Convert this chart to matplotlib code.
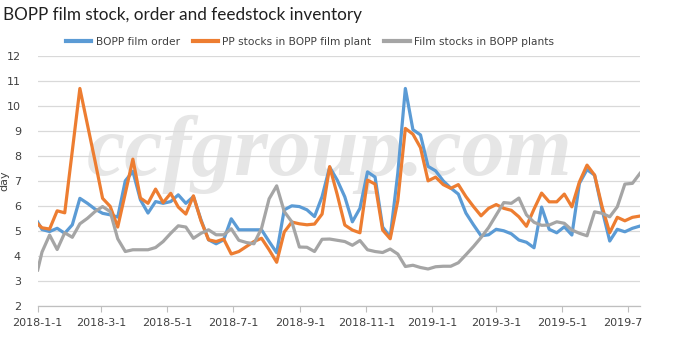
import matplotlib
matplotlib.use("Agg")
import matplotlib.pyplot as plt
import pandas as pd
from matplotlib.transforms import Bbox

# ---- data ----
dates = pd.to_datetime(["2018-01-01"]).append(
    pd.date_range("2018-01-05", "2019-07-12", freq="7D"))

bopp_order = [5.35, 5.05, 4.97, 5.1, 4.9, 5.24, 6.3, 6.1, 5.87, 5.7,
              5.64, 5.55, 7.0, 7.38, 6.24, 5.71, 6.17, 6.1, 6.17, 6.44,
              6.1, 6.37, 5.44, 4.64, 4.48, 4.64, 5.48, 5.04, 5.04, 5.04,
              5.04, 4.57, 4.12, 5.84, 6.0, 5.97, 5.84, 5.57, 6.37, 7.55,
              7.03, 6.36, 5.36, 5.9, 7.36, 7.15, 5.15, 4.75, 7.3, 10.7,
              9.05, 8.84, 7.58, 7.4, 7.0, 6.71, 6.47, 5.71, 5.24, 4.8,
              4.84, 5.06, 5.0, 4.88, 4.63, 4.54, 4.32, 5.95, 5.06, 4.92,
              5.16, 4.83, 6.9, 7.45, 7.23, 5.83, 4.59, 5.06, 4.96, 5.1,
              5.19]

pp_stocks = [5.28, 5.12, 5.07, 5.8, 5.72, 8.2, 10.7, 9.25, 7.8, 6.3,
             5.98, 5.15, 6.5, 7.87, 6.31, 6.1, 6.67, 6.13, 6.5, 5.95,
             5.67, 6.4, 5.4, 4.64, 4.57, 4.67, 4.07, 4.17, 4.37, 4.57,
             4.7, 4.24, 3.74, 4.95, 5.35, 5.28, 5.24, 5.27, 5.67, 7.57,
             6.45, 5.23, 5.03, 4.92, 7.03, 6.87, 5.03, 4.68, 6.2, 9.1,
             8.87, 8.33, 7.0, 7.15, 6.85, 6.7, 6.85, 6.37, 5.97, 5.6,
             5.9, 6.05, 5.9, 5.82, 5.56, 5.18, 5.87, 6.51, 6.16, 6.16,
             6.47, 5.96, 6.96, 7.63, 7.23, 5.96, 4.92, 5.54, 5.4, 5.54,
             5.59]

film_stocks = [3.43, 4.15, 4.83, 4.25, 4.92, 4.74, 5.28, 5.5, 5.77, 5.97,
               5.77, 4.68, 4.17, 4.24, 4.24, 4.24, 4.33, 4.57, 4.9, 5.2,
               5.15, 4.7, 4.9, 5.04, 4.84, 4.84, 5.08, 4.62, 4.53, 4.48,
               5.1, 6.28, 6.8, 5.77, 5.36, 4.35, 4.34, 4.17, 4.66, 4.67,
               4.62, 4.57, 4.42, 4.61, 4.24, 4.17, 4.13, 4.27, 4.07, 3.57,
               3.62, 3.53, 3.47, 3.56, 3.58, 3.58, 3.72, 4.04, 4.37, 4.73,
               5.13, 5.63, 6.13, 6.1, 6.31, 5.64, 5.34, 5.22, 5.23, 5.36,
               5.3, 5.03, 4.9, 4.8, 5.76, 5.7, 5.56, 5.96, 6.87, 6.9,
               7.3]

series_names = ["BOPP film order", "PP stocks in BOPP film plant",
                "Film stocks in BOPP plants"]
tick_dates = ["2018-01-01", "2018-03-01", "2018-05-01", "2018-07-01",
              "2018-09-01", "2018-11-01", "2019-01-01", "2019-03-01",
              "2019-05-01", "2019-07-01"]
tick_labels = ["2018-1-1", "2018-3-1", "2018-5-1", "2018-7-1", "2018-9-1",
               "2018-11-1", "2019-1-1", "2019-3-1", "2019-5-1", "2019-7-1"]
title = "BOPP film stock, order and feedstock inventory"

colors = ["#5B9BD5", "#ED7D31", "#A5A5A5"]
tickfont = "DejaVu Sans"

fig = plt.figure(figsize=(6.82, 3.5), dpi=100)
ax = fig.add_axes([37.7 / 682, 1 - 305.7 / 350, (640 - 37.7) / 682, (305.7 - 56) / 350])

# watermark
ax.text(0.485, 0.605, "ccfgroup.com", transform=ax.transAxes, ha="center", va="center",
        fontsize=62, family="Liberation Serif", style="italic", weight="bold",
        color="#e6e6e6", zorder=0.5)

for vals, c, name in zip([bopp_order, pp_stocks, film_stocks], colors, series_names):
    ax.plot(dates, vals, color=c, lw=2.3, label=name, solid_joinstyle="round", zorder=3)

ax.set_xlim(dates[0], dates[-1])
ax.set_ylim(2, 12)
ax.set_yticks(range(2, 13))
ax.grid(axis="y", color="#d9d9d9", lw=0.9, zorder=1)
ax.set_axisbelow(True)
for s in ["top", "right", "left"]:
    ax.spines[s].set_visible(False)
ax.spines["bottom"].set_color("#bfbfbf")
ax.spines["bottom"].set_linewidth(0.9)
ax.set_xticks(pd.to_datetime(tick_dates))
ax.set_xticklabels(tick_labels)
ax.tick_params(axis="x", length=4, color="#bfbfbf", labelsize=8, pad=5)
ax.tick_params(axis="y", length=0, labelsize=8, pad=12)
for lbl in ax.get_xticklabels() + ax.get_yticklabels():
    lbl.set_family(tickfont)
    lbl.set_color("#404040")
ax.set_ylabel("day", fontsize=8, family=tickfont, color="#404040")
ax.yaxis.set_label_coords(-(37.7 - 9) / (640 - 37.7), 0.5)

lastlbl = ax.get_xticklabels()[-1]
lastlbl.set_clip_box(Bbox([[0, 0], [642, 350]]))
lastlbl.set_clip_on(True)

fig.text(3 / 682, 1 - 15 / 350, title, fontsize=12.3, family="Lato", color="#202020",
         ha="left", va="center")

leg = fig.legend(loc="center", bbox_to_anchor=(310 / 682, 1 - 42 / 350), ncol=3,
                 frameon=False, prop={"family": tickfont, "size": 7.7},
                 handlelength=2.35, handletextpad=0.45, columnspacing=1.2,
                 borderpad=0, labelcolor="#404040")
for h in leg.legend_handles:
    h.set_linewidth(3)

fig.savefig("out.png", dpi=100)
